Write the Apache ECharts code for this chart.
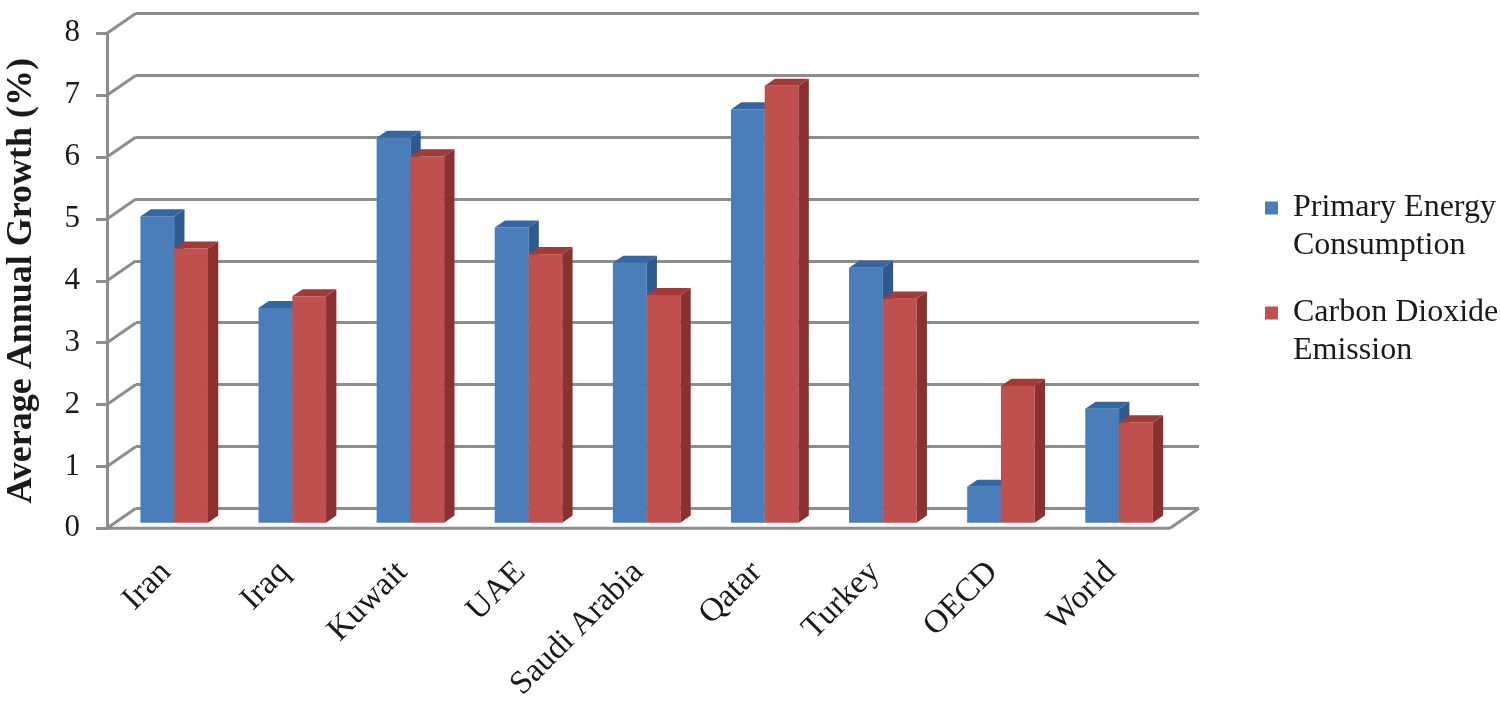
<!DOCTYPE html>
<html>
<head>
<meta charset="utf-8">
<script src="https://cdn.jsdelivr.net/npm/echarts@6/dist/echarts.min.js"></script>
<style>
  html, body { margin: 0; padding: 0; background: #fff; }
  #chart { width: 1500px; height: 709px; }
</style>
</head>
<body>
<div id="chart"></div>
<script>
// data
const categories = ['Iran', 'Iraq', 'Kuwait', 'UAE', 'Saudi Arabia', 'Qatar', 'Turkey', 'OECD', 'World'];
const energy = [4.95, 3.47, 6.22, 4.77, 4.20, 6.68, 4.12, 0.58, 1.84];
const carbon = [4.43, 3.66, 5.92, 4.34, 3.68, 7.06, 3.62, 2.21, 1.62];
const yTicks = [0, 1, 2, 3, 4, 5, 6, 7, 8];

const FONT = 'Liberation Serif';
const GREY = '#8d8d8d';
// 3d depth of the box (pixels) and where the bars sit inside it
const DX = 29, DY = -20;
const F1 = 0.28, F2 = 0.635;

const blue = { front: '#4a7ebb', side: '#2f5a8f', top: '#3566a2' };
const red = { front: '#c0504d', side: '#8a302e', top: '#a03b38' };

const chart = echarts.init(document.getElementById('chart'));

// one 3d bar: front face, right side, top
function barItem(k, col) {
  return function (params, api) {
    const i = api.value(0);
    const base = api.coord([i, 0]);
    const tp = api.coord([i, api.value(1)]);
    const band = api.size([1, 0])[0];
    const w = band * 0.286;
    const xl = base[0] - w + k * w + F1 * DX;
    const xr = xl + w;
    const yb = base[1] + F1 * DY;
    const yt = tp[1] + F1 * DY;
    const ddx = (F2 - F1) * DX, ddy = (F2 - F1) * DY;
    return {
      type: 'group',
      children: [
        { type: 'rect', shape: { x: xl, y: yt, width: w, height: yb - yt }, style: { fill: col.front } },
        { type: 'polygon', shape: { points: [[xr, yt], [xr + ddx, yt + ddy], [xr + ddx, yb + ddy], [xr, yb]] }, style: { fill: col.side } },
        { type: 'polygon', shape: { points: [[xl, yt], [xl + ddx, yt + ddy], [xr + ddx, yt + ddy], [xr, yt]] }, style: { fill: col.top } }
      ]
    };
  };
}

// left wall diagonals + floor edges
function frameItem(params, api) {
  const v = api.value(1);
  const p = api.coord([0, v]);
  const band = api.size([1, 0])[0];
  const left = p[0] - band / 2;
  const lineStyle = { stroke: GREY, lineWidth: 3, fill: null };
  const children = [
    { type: 'line', shape: { x1: left, y1: p[1], x2: left + DX, y2: p[1] + DY }, style: lineStyle }
  ];
  if (v === 0) {
    const right = left + band * categories.length;
    children.push({ type: 'line', shape: { x1: left, y1: p[1], x2: right, y2: p[1] }, style: lineStyle });
    children.push({ type: 'line', shape: { x1: right, y1: p[1], x2: right + DX, y2: p[1] + DY }, style: lineStyle });
  }
  return { type: 'group', children: children };
}

// leading blank line keeps the icon level with the first text line
const legendText = {
  'Primary Energy Consumption': '\nPrimary Energy\nConsumption',
  'Carbon Dioxide Emission': '\nCarbon Dioxide\nEmission'
};
const legendBase = {
  left: 1265,
  orient: 'vertical',
  padding: 0,
  icon: 'rect',
  itemWidth: 13,
  itemHeight: 13,
  selectedMode: false,
  formatter: (name) => legendText[name],
  textStyle: { fontFamily: FONT, fontSize: 32, lineHeight: 38, color: '#1a1a1a', padding: [0, 0, 0, 10] }
};

const option = {
  animation: false,
  backgroundColor: '#fff',
  grid: [
    { left: 107, right: 330, top: 33.3, bottom: 180.7, outerBoundsMode: 'none' },
    { left: 107 + DX, right: 330 - DX, top: 33.3 + DY, bottom: 180.7 - DY, outerBoundsMode: 'none' }
  ],
  legend: [
    Object.assign({}, legendBase, { data: ['Primary Energy Consumption'], top: 208 - 57 }),
    Object.assign({}, legendBase, { data: ['Carbon Dioxide Emission'], top: 313 - 57 })
  ],
  xAxis: [
    {
      type: 'category', gridIndex: 0, data: categories,
      axisLine: { show: false }, axisTick: { show: false },
      axisLabel: { interval: 0, rotate: 45, margin: 39, fontFamily: FONT, fontSize: 33, color: '#1a1a1a' }
    },
    { type: 'category', gridIndex: 1, data: categories, show: false }
  ],
  yAxis: [
    {
      type: 'value', gridIndex: 0, min: 0, max: 8, interval: 1,
      name: 'Average Annual Growth (%)', nameLocation: 'middle', nameGap: 67,
      nameTextStyle: { fontFamily: FONT, fontSize: 36, fontWeight: 'bold', color: '#1a1a1a' },
      axisLine: { show: true, lineStyle: { color: GREY, width: 3 } },
      axisTick: { show: true, length: 11, lineStyle: { color: GREY, width: 3 } },
      axisLabel: { margin: 27, fontFamily: FONT, fontSize: 31, color: '#1a1a1a' },
      splitLine: { show: false }
    },
    {
      type: 'value', gridIndex: 1, min: 0, max: 8, interval: 1,
      axisLine: { show: false }, axisTick: { show: false }, axisLabel: { show: false },
      splitLine: { show: true, lineStyle: { color: GREY, width: 3 } }
    }
  ],
  series: [
    {
      type: 'custom', name: 'frame', xAxisIndex: 0, yAxisIndex: 0, z: 1, silent: true,
      renderItem: frameItem,
      data: yTicks.map((v) => [0, v])
    },
    {
      type: 'custom', name: 'Primary Energy Consumption', xAxisIndex: 0, yAxisIndex: 0, z: 2,
      itemStyle: { color: blue.front },
      renderItem: barItem(0, blue),
      encode: { x: 0, y: 1 },
      data: energy.map((v, i) => [i, v])
    },
    {
      type: 'custom', name: 'Carbon Dioxide Emission', xAxisIndex: 0, yAxisIndex: 0, z: 3,
      itemStyle: { color: red.front },
      renderItem: barItem(1, red),
      encode: { x: 0, y: 1 },
      data: carbon.map((v, i) => [i, v])
    }
  ]
};

chart.setOption(option);
</script>
</body>
</html>
